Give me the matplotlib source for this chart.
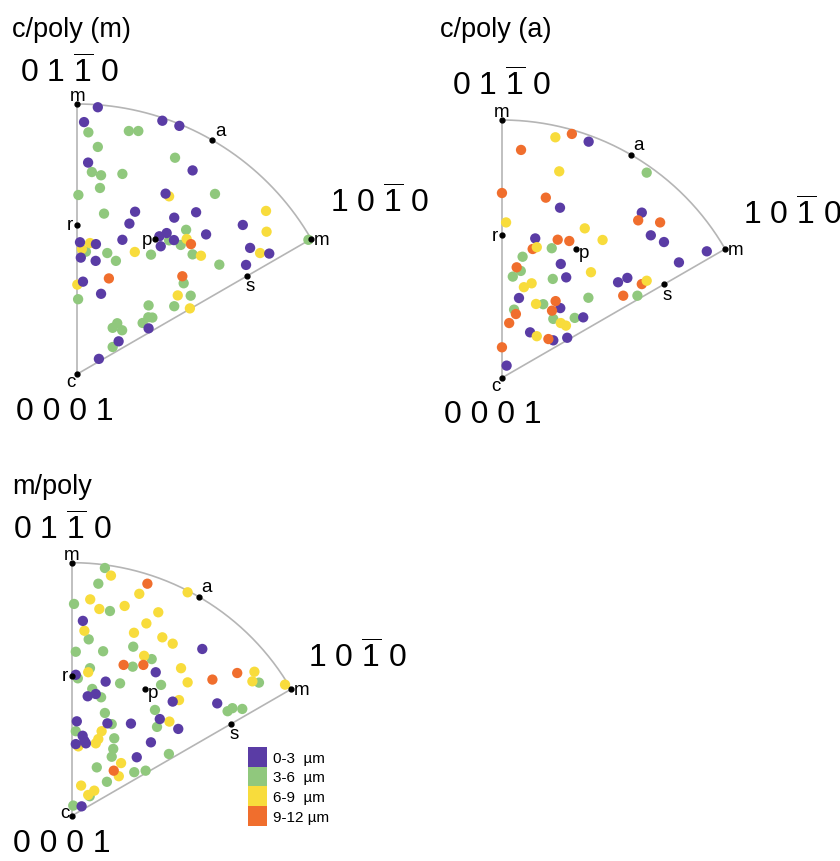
import numpy as np
import matplotlib
matplotlib.use("Agg")
import matplotlib.pyplot as plt
from matplotlib.patches import Patch

plt.rcParams['font.family'] = ['Liberation Sans', 'DejaVu Sans']
plt.rcParams['mathtext.fontset'] = 'custom'
plt.rcParams['mathtext.rm'] = 'Liberation Sans'

W, H = 840, 862

# colours of the grain size classes
size_labels = ["0-3  µm", "3-6  µm", "6-9  µm", "9-12 µm"]
size_colors = ["#5a3ca5", "#90c87d", "#f8dc3c", "#f06e2d"]

# points in the unit stereographic triangle (c at origin, radius 1)
# --- c/poly (m)
cm_purple = [(0.076, 0.988), (0.025, 0.933), (0.315, 0.938), (0.378, 0.919), (0.040, 0.783),
             (0.427, 0.754), (0.327, 0.668), (0.214, 0.601), (0.359, 0.579), (0.440, 0.599),
             (0.193, 0.557), (0.010, 0.488), (0.069, 0.481), (0.013, 0.431), (0.167, 0.497),
             (0.304, 0.510), (0.331, 0.522), (0.309, 0.473), (0.358, 0.496), (0.068, 0.419),
             (0.021, 0.342), (0.088, 0.297), (0.264, 0.169), (0.153, 0.121), (0.080, 0.056),
             (0.477, 0.517), (0.613, 0.552), (0.640, 0.467), (0.711, 0.446), (0.625, 0.404)]
cm_green = [(0.041, 0.895), (0.191, 0.900), (0.226, 0.900), (0.076, 0.841), (0.362, 0.801),
            (0.054, 0.748), (0.088, 0.736), (0.167, 0.741), (0.084, 0.689), (0.004, 0.663),
            (0.099, 0.594), (0.403, 0.534), (0.032, 0.453), (0.383, 0.478), (0.427, 0.443),
            (0.111, 0.448), (0.143, 0.419), (0.273, 0.442), (0.003, 0.277), (0.394, 0.336),
            (0.420, 0.290), (0.359, 0.251), (0.264, 0.254), (0.263, 0.210), (0.278, 0.209),
            (0.242, 0.189), (0.148, 0.188), (0.131, 0.171), (0.166, 0.162), (0.131, 0.100),
            (0.510, 0.667), (0.526, 0.405), (0.856, 0.497), (0.340, 0.495)]
cm_yellow = [(0.340, 0.658), (0.047, 0.485), (0.017, 0.463), (0.405, 0.500), (0.213, 0.452),
             (0.000, 0.331), (0.372, 0.291), (0.417, 0.243), (0.458, 0.438), (0.699, 0.604),
             (0.701, 0.527), (0.677, 0.448)]
cm_orange = [(0.421, 0.481), (0.117, 0.354), (0.389, 0.362)]

# --- c/poly (a)
ca_purple = [(0.337, 0.916), (0.226, 0.660), (0.130, 0.541), (0.229, 0.442), (0.250, 0.390),
             (0.451, 0.371), (0.067, 0.310), (0.227, 0.271), (0.316, 0.235), (0.110, 0.177),
             (0.200, 0.146), (0.254, 0.156), (0.019, 0.048), (0.543, 0.641), (0.578, 0.553),
             (0.629, 0.527), (0.795, 0.491), (0.687, 0.448), (0.487, 0.388)]
ca_green = [(0.562, 0.796), (0.194, 0.503), (0.081, 0.470), (0.074, 0.415), (0.043, 0.393),
            (0.198, 0.384), (0.336, 0.311), (0.161, 0.286), (0.048, 0.265), (0.200, 0.229),
            (0.283, 0.233), (0.526, 0.319)]
ca_yellow = [(0.208, 0.933), (0.223, 0.801), (0.017, 0.603), (0.322, 0.580), (0.391, 0.535),
             (0.136, 0.507), (0.346, 0.410), (0.116, 0.367), (0.086, 0.352), (0.133, 0.287),
             (0.229, 0.213), (0.249, 0.203), (0.136, 0.162), (0.562, 0.377)]
ca_orange = [(0.272, 0.946), (0.075, 0.884), (0.001, 0.717), (0.171, 0.699), (0.217, 0.536),
             (0.262, 0.531), (0.120, 0.500), (0.058, 0.429), (0.209, 0.298), (0.195, 0.261),
             (0.055, 0.248), (0.029, 0.213), (0.181, 0.151), (0.001, 0.119), (0.529, 0.611),
             (0.614, 0.603), (0.543, 0.364), (0.471, 0.319)]

# --- m/poly
mp_purple = [(0.043, 0.770), (0.331, 0.567), (0.015, 0.557), (0.133, 0.530), (0.062, 0.472),
             (0.094, 0.481), (0.398, 0.451), (0.347, 0.382), (0.420, 0.343), (0.019, 0.373),
             (0.140, 0.365), (0.233, 0.364), (0.042, 0.316), (0.049, 0.296), (0.015, 0.283),
             (0.055, 0.286), (0.312, 0.290), (0.256, 0.231), (0.038, 0.037), (0.515, 0.659),
             (0.574, 0.444)]
mp_green = [(0.130, 0.979), (0.104, 0.917), (0.008, 0.837), (0.150, 0.809), (0.066, 0.697),
            (0.242, 0.668), (0.015, 0.648), (0.123, 0.650), (0.315, 0.619), (0.240, 0.589),
            (0.071, 0.583), (0.190, 0.523), (0.352, 0.517), (0.080, 0.501), (0.115, 0.468),
            (0.130, 0.406), (0.328, 0.418), (0.336, 0.351), (0.157, 0.362), (0.015, 0.334),
            (0.167, 0.306), (0.163, 0.264), (0.157, 0.233), (0.383, 0.244), (0.098, 0.191),
            (0.246, 0.172), (0.291, 0.178), (0.138, 0.134), (0.070, 0.077), (0.005, 0.040),
            (0.739, 0.526), (0.615, 0.413), (0.634, 0.425), (0.673, 0.422), (0.023, 0.543)]
mp_yellow = [(0.154, 0.949), (0.266, 0.877), (0.457, 0.883), (0.072, 0.855), (0.108, 0.817),
             (0.208, 0.829), (0.341, 0.804), (0.049, 0.731), (0.294, 0.760), (0.245, 0.723),
             (0.357, 0.705), (0.398, 0.680), (0.285, 0.632), (0.064, 0.567), (0.431, 0.583),
             (0.457, 0.527), (0.423, 0.457), (0.385, 0.372), (0.117, 0.334), (0.025, 0.274),
             (0.104, 0.303), (0.094, 0.286), (0.194, 0.208), (0.185, 0.156), (0.036, 0.119),
             (0.064, 0.082), (0.088, 0.099), (0.721, 0.569), (0.713, 0.531), (0.842, 0.518)]
mp_orange = [(0.298, 0.917), (0.204, 0.596), (0.282, 0.596), (0.165, 0.178), (0.555, 0.538),
             (0.653, 0.564)]

# reference directions inside the triangle (radius, angle in deg)
ref_dirs = {"m_top": (1.0, 90), "a": (1.0, 60), "m_right": (1.0, 30),
            "r": (0.553, 90), "p": (0.576, 60), "s": (0.727, 30), "c": (0.0, 0)}

top_label = r"0 1 $\overline{\mathrm{1}}$ 0"
right_label = r"1 0 $\overline{\mathrm{1}}$ 0"
bottom_label = "0 0 0 1"

fig = plt.figure(figsize=(W / 100, H / 100), dpi=100)

x0, x1, y0, y1 = -0.35, 1.2, -0.2, 1.15


def make_panel(cx, cy, R):
    # c pole at pixel (cx, cy), unit radius = R pixels
    left = (cx + x0 * R) / W
    bottom = (H - (cy - y0 * R)) / H
    ax = fig.add_axes([left, bottom, (x1 - x0) * R / W, (y1 - y0) * R / H])
    ax.set_xlim(x0, x1)
    ax.set_ylim(y0, y1)
    ax.axis('off')
    return ax


def draw_panel(ax, groups, p_left, top_xy, right_xy, bottom_xy, c_tight=False):
    th = np.radians(np.linspace(30, 90, 200))
    gray = "#b5b5b5"
    ax.plot(np.cos(th), np.sin(th), color=gray, lw=1.2, zorder=1)
    ax.plot([0, 0], [0, 1], color=gray, lw=1.2, zorder=1)
    ax.plot([0, np.cos(np.radians(30))], [0, 0.5], color=gray, lw=1.2, zorder=1)

    for pts, col in groups:
        xs = [p[0] for p in pts]
        ys = [p[1] for p in pts]
        ax.scatter(xs, ys, s=55, color=col, edgecolors='none', zorder=3)

    pos = {k: (r * np.cos(np.radians(a)), r * np.sin(np.radians(a))) for k, (r, a) in ref_dirs.items()}
    for k, (x, y) in pos.items():
        ax.plot(x, y, 'o', color='black', ms=3.5, zorder=4)
    fs = 13.5
    kw = dict(fontsize=fs, textcoords='offset points', zorder=5)
    ax.annotate("m", pos["m_top"], xytext=(0, 0), ha='center', va='bottom', **kw)
    ax.annotate("a", pos["a"], xytext=(2, 1), ha='left', va='bottom', **kw)
    ax.annotate("m", pos["m_right"], xytext=(2, 0), ha='left', va='center', **kw)
    ax.annotate("r", pos["r"], xytext=(-3, 0), ha='right', va='center', **kw)
    if p_left:
        ax.annotate("p", pos["p"], xytext=(-2, 0), ha='right', va='center', **kw)
    else:
        ax.annotate("p", pos["p"], xytext=(2, -2), ha='left', va='center', **kw)
    ax.annotate("s", pos["s"], xytext=(2, -1), ha='center', va='top', **kw)
    if c_tight:
        ax.annotate("c", pos["c"], xytext=(-2, -3.5), ha='right', va='bottom', **kw)
    else:
        ax.annotate("c", pos["c"], xytext=(-1, 1), ha='right', va='top', **kw)

    big = 23
    ax.text(*top_xy, top_label, fontsize=big, ha='center', va='center')
    ax.text(*right_xy, right_label, fontsize=big, ha='center', va='center')
    ax.text(*bottom_xy, bottom_label, fontsize=big, ha='center', va='center')


ax1 = make_panel(77.3, 375, 270)
draw_panel(ax1, [(cm_green, size_colors[1]), (cm_yellow, size_colors[2]),
                 (cm_orange, size_colors[3]), (cm_purple, size_colors[0])],
           True, (-0.03, 1.12), (1.12, 0.637), (-0.045, -0.137))

ax2 = make_panel(501.7, 379, 258)
draw_panel(ax2, [(ca_green, size_colors[1]), (ca_purple, size_colors[0]),
                 (ca_orange, size_colors[3]), (ca_yellow, size_colors[2])],
           False, (0.0, 1.136), (1.125, 0.636), (-0.034, -0.14))

ax3 = make_panel(72, 816.7, 253)
draw_panel(ax3, [(mp_green, size_colors[1]), (mp_yellow, size_colors[2]),
                 (mp_orange, size_colors[3]), (mp_purple, size_colors[0])],
           False, (-0.04, 1.133), (1.126, 0.627), (-0.04, -0.106), c_tight=True)

fig.text(12 / W, 1 - 30 / H, "c/poly (m)", fontsize=19.5, ha='left', va='center')
fig.text(440 / W, 1 - 30 / H, "c/poly (a)", fontsize=19.5, ha='left', va='center')
fig.text(12 / W, 1 - 487 / H, "m/poly", fontsize=19.5, ha='left', va='center')

handles = [Patch(facecolor=c, edgecolor='none') for c in size_colors]
fig.legend(handles, size_labels, loc='upper left', bbox_to_anchor=(248 / W, 1 - 748 / H),
           frameon=False, fontsize=11, handlelength=1.25, handleheight=1.6,
           handletextpad=0.4, labelspacing=0, borderpad=0, borderaxespad=0)

fig.savefig("out.png", dpi=100, facecolor='white')
